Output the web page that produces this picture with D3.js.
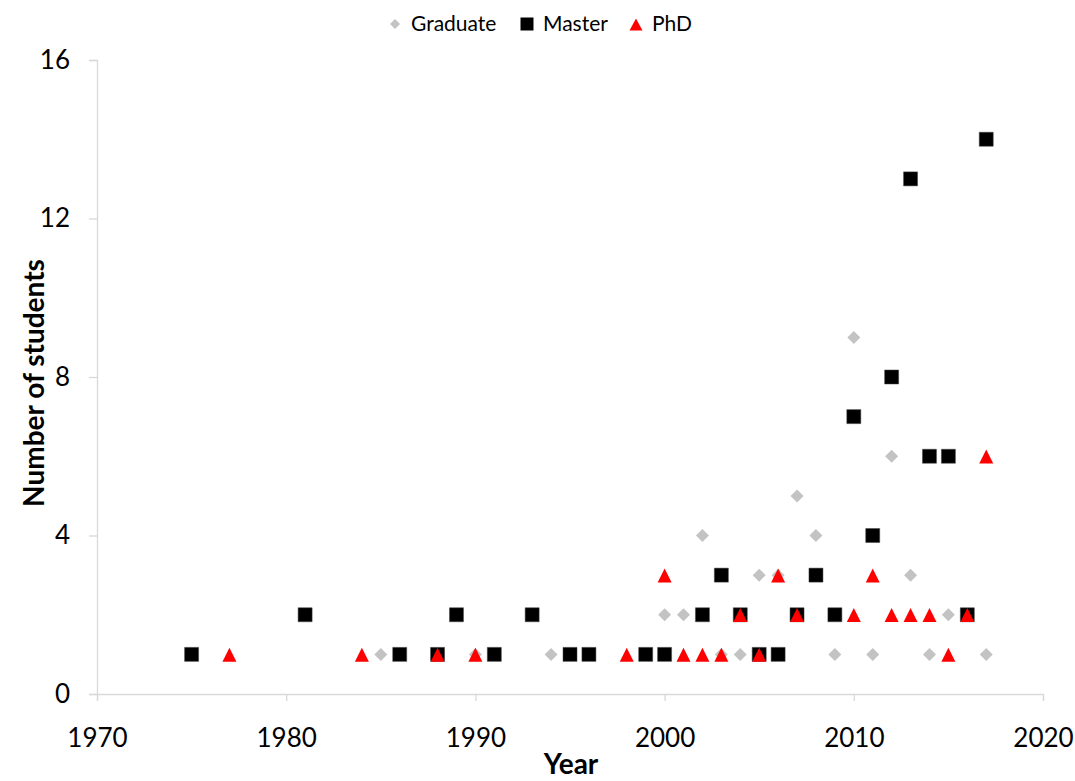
<!DOCTYPE html>
<html><head><meta charset="utf-8">
<script src="https://cdn.jsdelivr.net/npm/d3@7"></script>
<style>body{margin:0;background:#fff;} svg{display:block;font-family:Lato,"Open Sans",sans-serif;}</style>
</head><body>
<svg id="c" width="1075" height="781"></svg>
<script>
const gradYears = [1985,1990,1994,2003,2004,2009,2011,2014,2017,2000,2001,2015,2005,2006,2013,2002,2008,2007,2012,2010];
const gradVals  = [1,1,1,1,1,1,1,1,1,2,2,2,3,3,3,4,4,5,6,9];
const masterYears = [1975,1986,1988,1991,1995,1996,1999,2000,2005,2006,1981,1989,1993,2002,2004,2007,2009,2016,2003,2008,2011,2014,2015,2010,2012,2013,2017];
const masterVals  = [1,1,1,1,1,1,1,1,1,1,2,2,2,2,2,2,2,2,3,3,4,6,6,7,8,13,14];
const phdYears = [1977,1984,1988,1990,1998,2001,2002,2003,2005,2015,2004,2007,2010,2012,2013,2014,2016,2000,2006,2011,2017];
const phdVals  = [1,1,1,1,1,1,1,1,1,1,2,2,2,2,2,2,2,3,3,3,6];
const xTicks = [1970,1980,1990,2000,2010,2020];
const yTicks = [0,4,8,12,16];
const seriesNames = ["Graduate","Master","PhD"];

const svg = d3.select("#c");
const x = d3.scaleLinear().domain([1970,2020]).range([97,1043]);
const y = d3.scaleLinear().domain([0,16]).range([694,60]);
const axisColor = "#d9d9d9";

const xa = svg.append("g").attr("transform","translate(0,694)")
  .call(d3.axisBottom(x).tickValues(xTicks).tickFormat(d3.format("d")).tickSizeOuter(0).tickSize(7));
const ya = svg.append("g").attr("transform","translate(97,0)")
  .call(d3.axisLeft(y).tickValues(yTicks).tickSizeOuter(0).tickSize(8).tickPadding(19));
[xa,ya].forEach(a=>{
  a.selectAll("path,line").attr("stroke",axisColor).attr("stroke-width",1.3);
  a.selectAll("text").attr("fill","#000").attr("font-family","Lato, 'Open Sans', sans-serif").attr("font-size",26);
});
xa.selectAll("text").attr("y",44).attr("dy","0.35em");

svg.append("text").attr("x",571).attr("y",774).attr("text-anchor","middle")
  .attr("font-size",28).attr("font-weight","bold").text("Year");
svg.append("text").attr("transform","translate(44,383) rotate(-90)").attr("text-anchor","middle")
  .attr("font-size",28).attr("font-weight","bold").text("Number of students");

const diamond = (s)=>`M0,${-s}L${s},0L0,${s}L${-s},0Z`;
const square = (s)=>`M${-s},${-s}H${s}V${s}H${-s}Z`;
const tri = (w,h)=>`M0,${-h*0.55}L${w},${h*0.45}L${-w},${h*0.45}Z`;

const g = svg.append("g");
g.selectAll(".gd").data(gradYears.map((d,i)=>[d,gradVals[i]])).join("path")
  .attr("transform",d=>`translate(${x(d[0])},${y(d[1])})`).attr("d",diamond(6.5)).attr("fill","#c3c3c3");
g.selectAll(".ms").data(masterYears.map((d,i)=>[d,masterVals[i]])).join("path")
  .attr("transform",d=>`translate(${x(d[0])},${y(d[1])})`).attr("d",square(7)).attr("fill","#000").attr("stroke","#444").attr("stroke-width",0.5);
g.selectAll(".ph").data(phdYears.map((d,i)=>[d,phdVals[i]])).join("path")
  .attr("transform",d=>`translate(${x(d[0])},${y(d[1])+1})`).attr("d",tri(7,14)).attr("fill","#ff0000");

// legend
const lg = svg.append("g").attr("font-size",21);
const lx = [395,527,636];
lg.append("path").attr("transform",`translate(${lx[0]},24)`).attr("d",diamond(5)).attr("fill","#c3c3c3");
lg.append("path").attr("transform",`translate(${lx[1]},24)`).attr("d",square(6.5)).attr("fill","#000");
lg.append("path").attr("transform",`translate(${lx[2]},25)`).attr("d",tri(6.5,12)).attr("fill","#ff0000");
seriesNames.forEach((n,i)=>{
  lg.append("text").attr("x",lx[i]+16).attr("y",24).attr("dy","0.35em").text(n);
});
</script>
</body></html>
